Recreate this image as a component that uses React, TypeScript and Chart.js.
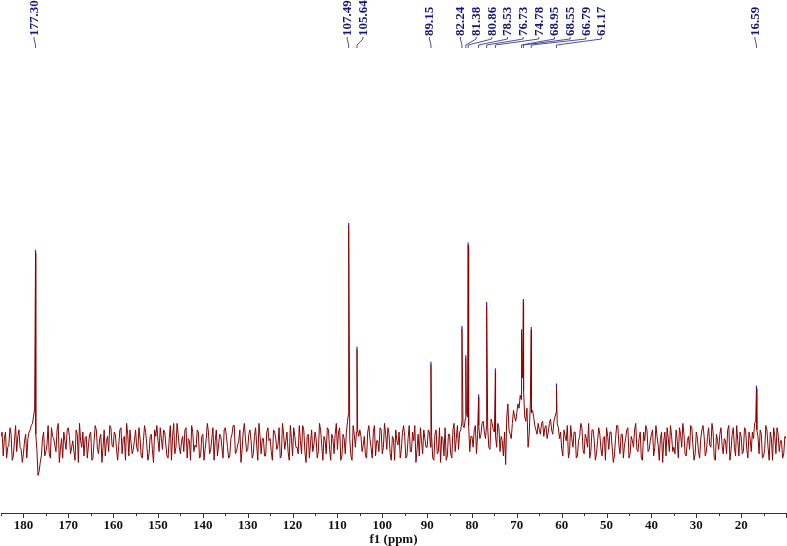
import React, { useEffect, useRef } from "react";
import { Chart, registerables } from "chart.js";

Chart.register(...registerables);

// ---- data ----
const axisMin = 10;
const axisMax = 185;
const baselineStep = 0.5; // ppm between samples within each baseline list
const baselineStartA = 185; // first sample of list A (185, 184.5, ...)
const baselineNoiseA = [
  3, -6, 5, -2, 7, -8, 1, -4, 6, -3,
  -5, 4, 2, 6, 9, 16, -3, -13, -6, 5,
  -4, 8, -7, 3, -1, 6, -9, 2, 5, -3,
  7, -5, 1, -8, 4, 9, -2, -6, 3, -1,
  5, -7, 8, -3, 2, -9, 6, 1, -4, 7,
  -2, 4, -8, 6, -5, 3, 9, -6, 0, -3,
  6, -4, 2, -7, 8, -1, -5, 4, -9, 3,
  1, 7, -3, 5, -6, 2, -8, 9, -2, 4,
  -5, 3, 6, -7, 1, 8, -4, -2, 5, -6,
  4, -3, 9, -5, 2, -8, 6, -1, 3, -7,
  7, -2, -6, 4, 8, -4, 1, -9, 5, 2,
  -3, 6, -7, 3, -1, 9, -5, 2, -6, 7,
  2, -8, 5, -3, 7, -6, 4, 1, -4, 8,
  -6, 3, -2, 8, -5, 6, -9, 4, 0, -4,
  5, -7, 9, -1, 3, -5, 6, -8, 2, 4,
  -3, 7, -6, 2, 5, 14, -6, 8, -2, 6,
  6, -4, 3, -7, 8, -2, 5, -6, 1, 7,
  -5, 9, -3, 4, -8, 2, 6, -1, -7, 5,
  3, -6, 8, -4, 1, -9, 4, 7, -5, 2,
  -2, 5, 3, -8, 6, -4, -9, 2, 7, -6,
  4, -7, 9, 2, -3, 6, 8, 11, 12, -4,
  3, 6, -5, 8, 4, 10, 2, 7, -3, 9,
  5, -2, 7, 3, -6, -10, 18, 4, 9, 12,
  14, 16, 20, 24, 10, -2, 18, 15, 8, 4,
  6, 9, 3, 8, 5, 11, 4, 12, 9, 2,
  -3, 6, 1, -7, 8, -2, 5, -6, 3, 7,
  -5, 2, 9, -4, 6, -8, 1, 4, -6, 3,
  7, -3, 5, -9, 2, 8, -5, 4, -1, 6,
  -7, 3, -2, 9, -4, 5, -8, 1, 6, -3,
  4, -6, 8, -1, 2, -9, 5, 7, -4, 3,
  -2, 6, -7, 4, 9, -5, 1, -3, 7, -8,
  5, -4, 2, 8, -6, 3, -1, 9, -7, 4,
  -3, 7, -5, 1, 6, -8, 4, -2, 8, -6,
  3, -4, 6, -7, 2, 5, 9, 6, -5, 4,
  -6, 8, -2, 5, -8, 3, 7, -4, 1, -5,
  2,
];
const baselineStartB = 184.75; // first sample of list B (184.75, 184.25, ...)
const baselineNoiseB = [
  5, 2, -7, -1, 4, -6, 8, 3, -2, -9,
  1, -7, 5, 8, 12, 4, -15, -9, 2, -6,
  -1, -5, 7, 2, -4, 9, -3, -7, 1, 6,
  3, -2, -4, 6, -9, 1, 5, 2, -7, 4,
  -8, 1, 6, -5, 4, -2, -6, 3, 8, -1,
  5, -3, -1, 7, 2, -8, 4, 6, -5, 1,
  -2, 7, -6, 1, 5, -8, 3, -3, 6, 8,
  -4, 2, 6, -1, -7, 8, 3, -5, 9, -2,
  1, -4, 7, 2, -8, 5, -1, 6, -7, 3,
  -8, 2, 5, -3, 7, 1, -6, 4, -2, 6,
  3, -7, 2, 8, -5, -1, 6, -3, 9, -4,
  4, 1, -5, 7, -8, 3, 2, -6, 5, 1,
  -4, 6, 2, -1, -7, 9, -3, 5, -8, 2,
  7, -2, -5, 1, 8, -4, 3, -7, 6, -1,
  2, -4, 6, -8, 1, 7, -3, 4, -5, 9,
  5, -8, 4, -5, 10, 2, -8, 4, 5, 3,
  3, -1, -6, 5, 2, -7, 8, 1, -4, 6,
  -2, 4, 7, -5, 3, -8, 1, 5, -3, 8,
  -7, 2, -4, 5, 8, -3, -6, 1, 6, -2,
  6, -2, -7, 4, -5, 7, 3, -6, -8, 4,
  -5, 6, -4, 8, 5, 10, 7, 14, 8, 3,
  -2, 8, 4, 2, 9, 5, 8, -2, 11, 6,
  3, 9, -4, 1, 5, 12, 6, 2, 15, 10,
  18, 22, 30, 12, 16, 4, 14, 12, 6, 9,
  4, 10, 7, 2, 9, 6, 10, 14, 7, 5,
  -6, 3, 8, -4, 2, 5, -7, 1, 9, -3,
  4, -2, -7, 6, 1, -5, 7, -3, 2, -8,
  3, 5, -2, -6, 8, -1, 4, -7, 2, 7,
  -5, 1, 6, -3, 2, -7, 5, 8, -4, 1,
  6, -2, 3, -8, 5, 1, -6, 2, 8, -4,
  -5, 1, 7, -2, 4, -6, 3, 8, -1, -5,
  2, -7, 6, 3, -4, 7, -2, 5, -8, 1,
  4, -1, 2, -5, 8, -3, 7, -6, 1, 5,
  -5, 7, -3, 5, -4, 2, 10, 3, 6, -7,
  -3, 6, -8, 2, 7, -5, 4, 1, -7, 3,
];
const peakPpm = [177.3, 107.49, 105.64, 89.15, 82.24, 81.38, 80.86, 78.53, 76.73, 74.78, 68.95, 68.55, 66.79, 61.17, 16.59];
const peakHeight = [87.6, 100, 43, 36, 52.5, 39, 91, 21, 63.6, 33, 51, 65, 52, 26, 25];
const majorTicks = [180, 170, 160, 150, 140, 130, 120, 110, 100, 90, 80, 70, 60, 50, 40, 30, 20];
const axisTitle = "f1 (ppm)";

// ---- build points ----
function buildPoints() {
  const pts: { x: number; y: number }[] = [];
  baselineNoiseA.forEach((v, i) => pts.push({ x: baselineStartA - i * baselineStep, y: v }));
  baselineNoiseB.forEach((v, i) => pts.push({ x: baselineStartB - i * baselineStep, y: v }));
  peakPpm.forEach((p, i) => pts.push({ x: p, y: peakHeight[i] }));
  pts.sort((a, b) => b.x - a.x);
  return pts;
}

const peakLabelPlugin = {
  id: "peakLabels",
  afterDraw(chart: any) {
    const ctx = chart.ctx;
    const xs = chart.scales.x;
    const ys = chart.scales.y;
    const area = chart.chartArea;

    // custom ticks (major longer than minor)
    ctx.save();
    ctx.strokeStyle = "#333";
    ctx.lineWidth = 1;
    for (let v = axisMax; v >= axisMin; v -= 5) {
      const x = Math.round(xs.getPixelForValue(v)) + 0.5;
      const len = v % 10 === 0 ? 5 : 3;
      ctx.beginPath();
      ctx.moveTo(x, area.bottom);
      ctx.lineTo(x, area.bottom + len);
      ctx.stroke();
    }
    ctx.restore();

    // peak labels
    const items = peakPpm
      .map((p, i) => ({ p, h: peakHeight[i], px: xs.getPixelForValue(p), py: ys.getPixelForValue(peakHeight[i]) }))
      .sort((a, b) => a.px - b.px);
    const spacing = 15.67;
    let prev = -Infinity;
    const lx: number[] = [];
    items.forEach((it) => {
      const v = Math.max(it.px - 1.5, prev + spacing);
      lx.push(v);
      prev = v;
    });

    ctx.save();
    ctx.font = "bold 13px 'Liberation Serif', 'Times New Roman', serif";
    ctx.fillStyle = "#14147a";
    ctx.strokeStyle = "#3a3a90";
    ctx.lineWidth = 0.9;
    items.forEach((it, i) => {
      const x = lx[i];
      ctx.save();
      ctx.translate(x + 0.5, 36);
      ctx.rotate(-Math.PI / 2);
      ctx.textAlign = "left";
      ctx.textBaseline = "middle";
      ctx.fillText(it.p.toFixed(2), 0, 0);
      ctx.restore();
      ctx.beginPath();
      ctx.moveTo(x, 37);
      ctx.lineTo(x, 39);
      ctx.lineTo(it.px, 45);
      ctx.lineTo(it.px, 48);
      ctx.stroke();
    });
    // blue tip markers
    ctx.strokeStyle = "#2a2ad0";
    ctx.lineWidth = 1.2;
    items.forEach((it) => {
      ctx.beginPath();
      ctx.moveTo(it.px, it.py - 3);
      ctx.lineTo(it.px, it.py + 0.5);
      ctx.stroke();
    });
    ctx.restore();
  },
};

export default function App() {
  const ref = useRef<HTMLCanvasElement | null>(null);
  useEffect(() => {
    document.body.style.margin = "0";
    const canvas = ref.current;
    if (!canvas) return;
    const chart = new Chart(canvas, {
      type: "line",
      data: {
        datasets: [
          {
            data: buildPoints(),
            borderColor: "#8b0000",
            borderWidth: 1,
            pointRadius: 0,
            tension: 0,
            fill: false,
          },
        ],
      },
      options: {
        animation: false,
        responsive: false,
        parsing: false,
        layout: { padding: { top: 50, left: 0, right: 0, bottom: 0 } },
        plugins: { legend: { display: false }, tooltip: { enabled: false } },
        scales: {
          x: {
            type: "linear",
            reverse: true,
            min: axisMin,
            max: axisMax,
            ticks: {
              stepSize: 5,
              includeBounds: false,
              autoSkip: false,
              maxRotation: 0,
              padding: 1,
              color: "#111",
              font: { family: "'Liberation Serif', serif", weight: "bold", size: 13, lineHeight: 1 },
              callback: (v: any) => (majorTicks.includes(Number(v)) ? String(v) : ""),
            },
            grid: { display: true, drawOnChartArea: false, drawTicks: true, tickLength: 5, tickColor: "rgba(0,0,0,0)" },
            border: { display: true, color: "#333", width: 1 },
            title: {
              display: true,
              text: axisTitle,
              color: "#111",
              padding: { top: 0, bottom: 0 },
              font: { family: "'Liberation Serif', serif", weight: "bold", size: 13, lineHeight: 1 },
            },
          },
          y: { display: false, min: -32.3, max: 181.1 },
        },
      },
      plugins: [peakLabelPlugin],
    } as any);
    return () => chart.destroy();
  }, []);
  return <canvas ref={ref} width={787} height={546} style={{ display: "block" }} />;
}
